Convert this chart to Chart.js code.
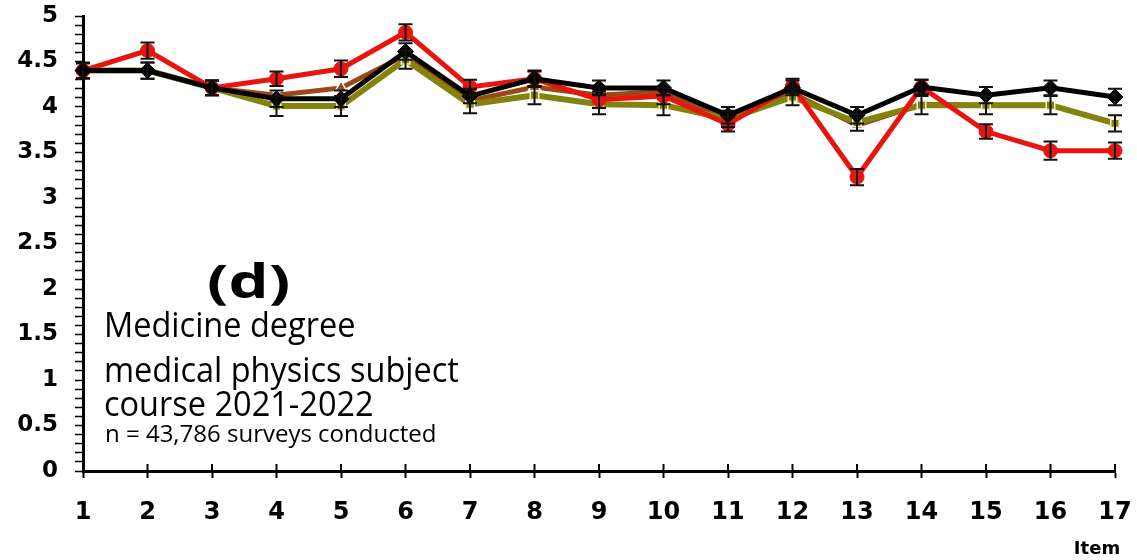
<!DOCTYPE html>
<html>
<head>
<meta charset="utf-8">
<script src="https://cdn.jsdelivr.net/npm/chart.js@4.4.1/dist/chart.umd.min.js"></script>
<style>
  html, body { margin: 0; padding: 0; background: #fff; }
  #wrap { width: 1137px; height: 560px; }
</style>
</head>
<body>
<div id="wrap"><canvas id="c" width="1137" height="560"></canvas></div>
<script>
const items = ['1','2','3','4','5','6','7','8','9','10','11','12','13','14','15','16','17'];
const redValues   = [4.4, 4.62, 4.21, 4.31, 4.42, 4.82, 4.22, 4.31, 4.08, 4.12, 3.81, 4.23, 3.23, 4.22, 3.73, 3.52, 3.52];
const blackValues = [4.4, 4.4, 4.21, 4.09, 4.09, 4.61, 4.12, 4.31, 4.21, 4.21, 3.91, 4.21, 3.91, 4.22, 4.13, 4.21, 4.11];
const brownValues = [4.4, 4.4, 4.21, 4.13, 4.21, 4.57, 4.07, 4.22, 4.13, 4.17, 3.85, 4.15, 3.80, 4.03, 4.02, 4.02, 3.82];
const oliveValues = [4.4, 4.4, 4.21, 4.01, 4.01, 4.52, 4.03, 4.13, 4.03, 4.02, 3.87, 4.11, 3.83, 4.02, 4.02, 4.02, 3.82];
const redErrors   = [0.08, 0.09, 0.08, 0.08, 0.09, 0.09, 0.08, 0.08, 0.09, 0.09, 0.08, 0.08, 0.09, 0.08, 0.08, 0.10, 0.09];
const blackErrors = [0.08, 0.09, 0.08, 0.09, 0.09, 0.09, 0.08, 0.09, 0.08, 0.08, 0.09, 0.08, 0.09, 0.08, 0.09, 0.08, 0.09];
const oliveErrors = [0.09, 0.09, 0.08, 0.11, 0.11, 0.10, 0.10, 0.10, 0.11, 0.11, 0.09, 0.09, 0.09, 0.10, 0.10, 0.10, 0.09];
const yTickStep = 0.1;
const yLabelStep = 0.5;
const xTitle = 'Item';
const notes = ['Medicine degree', 'medical physics subject', 'course 2021-2022'];
const noteSmall = 'n = 43,786 surveys conducted';
const panelLabel = '(d)';

const errorBarPlugin = {
  id: 'errorBars',
  afterDatasetsDraw(chart) {
    const ctx = chart.ctx;
    const y = chart.scales.y;
    chart.data.datasets.forEach((ds, i) => {
      if (!ds.errors) return;
      const meta = chart.getDatasetMeta(i);
      ctx.save();
      ctx.strokeStyle = '#111';
      ctx.lineWidth = 2;
      meta.data.forEach((pt, j) => {
        const v = ds.data[j], e = ds.errors[j];
        const x = pt.x;
        const yt = y.getPixelForValue(v + e), yb = y.getPixelForValue(v - e);
        ctx.beginPath();
        ctx.moveTo(x, yt); ctx.lineTo(x, yb);
        ctx.moveTo(x - 7, yt); ctx.lineTo(x + 7, yt);
        ctx.moveTo(x - 7, yb); ctx.lineTo(x + 7, yb);
        ctx.stroke();
      });
      ctx.restore();
    });
  }
};

const extrasPlugin = {
  id: 'extras',
  afterDraw(chart) {
    const ctx = chart.ctx;
    const xs = chart.scales.x, ys = chart.scales.y;
    ctx.save();
    ctx.strokeStyle = '#000';
    ctx.lineWidth = 2;
    const y0 = ys.getPixelForValue(0);
    for (let i = 0; i < items.length; i++) {
      const x = xs.getPixelForValue(i);
      ctx.beginPath(); ctx.moveTo(x, y0); ctx.lineTo(x, y0 - 7); ctx.stroke();
    }
    ctx.fillStyle = '#000';
    ctx.textBaseline = 'alphabetic';
    ctx.save();
    ctx.translate(207, 298);
    ctx.scale(1.38, 1);
    ctx.font = 'bold 46px "Open Sans"';
    ctx.fillText(panelLabel, 0, 0);
    ctx.restore();
    const bases = [337, 382, 416];
    notes.forEach((t, k) => {
      ctx.save();
      ctx.translate(104, bases[k]);
      ctx.scale(1, 1.08);
      ctx.font = '32.5px "Open Sans"';
      ctx.fillText(t, 0, 0);
      ctx.restore();
    });
    ctx.font = '24px "Open Sans"';
    ctx.fillText(noteSmall, 105, 442);
    ctx.font = 'bold 18px "DejaVu Sans"';
    ctx.textAlign = 'center';
    ctx.fillText(xTitle, 1097, 554);
    ctx.restore();
  }
};

new Chart(document.getElementById('c'), {
  type: 'line',
  data: {
    labels: items,
    datasets: [
      {
        label: 'olive', data: oliveValues, errors: oliveErrors,
        borderColor: '#84840c', borderWidth: 6,
        pointStyle: 'rect', pointRadius: 6, pointBackgroundColor: '#84840c',
        pointBorderColor: '#f2efc4', pointBorderWidth: 1.5, order: 3
      },
      {
        label: 'brown', data: brownValues,
        borderColor: '#9b4716', borderWidth: 5,
        pointStyle: 'triangle', pointRadius: 7, pointBackgroundColor: '#9b4716',
        pointBorderColor: '#ffffff', pointBorderWidth: 1.5, order: 4
      },
      {
        label: 'red', data: redValues, errors: redErrors,
        borderColor: '#e8140e', borderWidth: 5,
        pointStyle: 'circle', pointRadius: 7, pointBackgroundColor: '#e8140e',
        pointBorderColor: '#e8140e', pointBorderWidth: 1, order: 2
      },
      {
        label: 'black', data: blackValues, errors: blackErrors,
        borderColor: '#000000', borderWidth: 5,
        pointStyle: 'rectRot', pointRadius: 8, pointBackgroundColor: '#000000',
        pointBorderColor: '#000000', pointBorderWidth: 1, order: 1
      }
    ]
  },
  options: {
    responsive: false,
    animation: false,
    events: [],
    layout: { padding: { top: 16, right: 22, left: 0, bottom: 0 } },
    plugins: { legend: { display: false }, tooltip: { enabled: false } },
    elements: { line: { tension: 0 } },
    scales: {
      x: {
        type: 'category',
        offset: false,
        border: { display: true, color: '#000', width: 3 },
        grid: { display: true, drawOnChartArea: false, drawTicks: true, tickLength: 7, tickColor: '#000', tickWidth: 2 },
        ticks: {
          color: '#000', padding: 20, maxRotation: 0, autoSkip: false,
          font: { family: '"DejaVu Sans"', weight: 'bold', size: 24 }
        },
        afterFit(s) { s.height = 89; s.paddingLeft = 0; s.paddingRight = 0; }
      },
      y: {
        min: 0, max: 5,
        border: { display: true, color: '#000', width: 3 },
        grid: { display: true, drawOnChartArea: false, drawTicks: true, tickLength: 8, tickColor: '#000', tickWidth: 1.5 },
        ticks: {
          stepSize: yTickStep, autoSkip: false, color: '#000', padding: 17,
          font: { family: '"DejaVu Sans"', weight: 'bold', size: 23 },
          callback(v) {
            const r = Math.round(v * 10) / 10;
            if (Math.abs(r / yLabelStep - Math.round(r / yLabelStep)) < 1e-6) return String(r);
            return '';
          }
        },
        afterFit(s) { s.width = 83; s.paddingTop = 0; s.paddingBottom = 0; }
      }
    }
  },
  plugins: [errorBarPlugin, extrasPlugin]
});
</script>
</body>
</html>
